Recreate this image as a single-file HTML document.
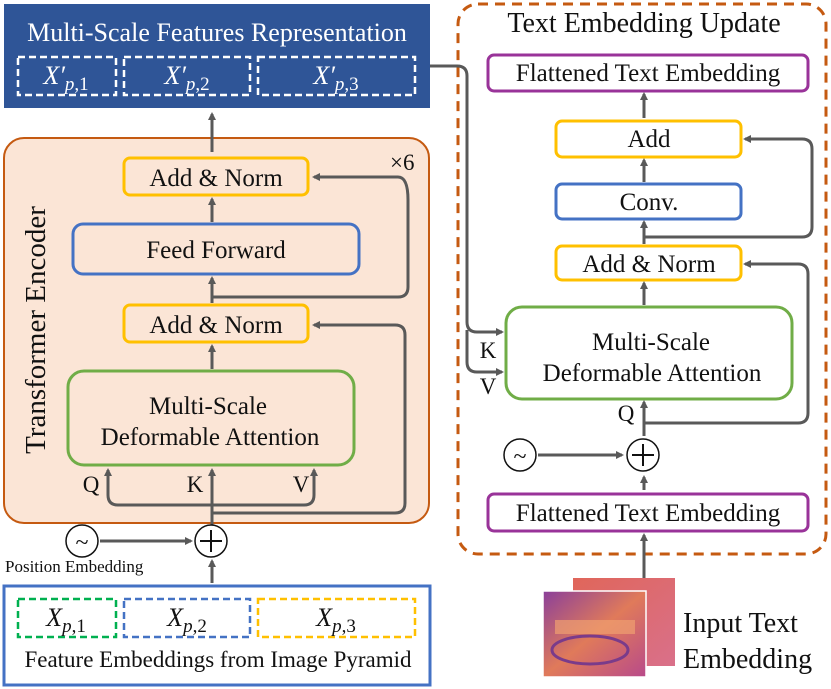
<!DOCTYPE html>
<html><head><style>
html,body{margin:0;padding:0;background:#fff}
svg{display:block}
text{font-family:"Liberation Serif",serif;fill:#111}
</style></head><body>
<svg width="831" height="689" viewBox="0 0 831 689" xmlns="http://www.w3.org/2000/svg">
<defs>
<marker id="ah" markerWidth="8" markerHeight="8" refX="6" refY="4" orient="auto" markerUnits="userSpaceOnUse"><path d="M0,0 L8,4 L0,8 Z" fill="#595959"/></marker>
</defs>
<!-- top blue box -->
<rect x="4" y="4" width="426" height="104" fill="#2f5597"/>
<text x="217" y="41" font-size="26" text-anchor="middle" style="fill:#fff">Multi-Scale Features Representation</text>
<g fill="none" stroke="#fff" stroke-width="2.5" stroke-dasharray="7,4">
<rect x="18" y="57" width="98" height="38"/><rect x="124" y="57" width="126" height="38"/><rect x="258" y="57" width="157" height="38"/>
</g>
<g font-size="26" text-anchor="middle">
<text x="66" y="84" style="fill:#fff"><tspan font-style="italic">X′</tspan><tspan font-size="19" dy="6" font-style="italic">p</tspan><tspan font-size="19">,1</tspan></text>
<text x="187" y="84" style="fill:#fff"><tspan font-style="italic">X′</tspan><tspan font-size="19" dy="6" font-style="italic">p</tspan><tspan font-size="19">,2</tspan></text>
<text x="336" y="84" style="fill:#fff"><tspan font-style="italic">X′</tspan><tspan font-size="19" dy="6" font-style="italic">p</tspan><tspan font-size="19">,3</tspan></text>
</g>
<!-- transformer encoder -->
<rect x="4" y="138" width="425" height="385" rx="20" fill="#fbe5d6" stroke="#c55a11" stroke-width="2"/>
<text transform="translate(45,330) rotate(-90)" font-size="29" text-anchor="middle">Transformer Encoder</text>
<text x="390" y="170" font-size="23">×6</text>
<g stroke-width="3">
<rect x="124" y="158" width="184" height="37" rx="6" fill="#fbe5d6" stroke="#ffc000"/>
<rect x="73" y="224" width="286" height="50" rx="10" fill="#fbe5d6" stroke="#4472c4"/>
<rect x="124" y="305" width="184" height="37" rx="6" fill="#fbe5d6" stroke="#ffc000"/>
<rect x="68" y="371" width="286" height="94" rx="16" fill="#fbe5d6" stroke="#70ad47"/>
</g>
<g font-size="25" text-anchor="middle">
<text x="216" y="186">Add &amp; Norm</text>
<text x="216" y="258">Feed Forward</text>
<text x="216" y="333">Add &amp; Norm</text>
<text x="208" y="414">Multi-Scale</text>
<text x="210" y="445">Deformable Attention</text>
</g>
<g font-size="23" text-anchor="middle">
<text x="91" y="492">Q</text><text x="195" y="492">K</text><text x="301" y="492">V</text>
</g>
<g stroke="#595959" stroke-width="3" fill="none" marker-end="url(#ah)">
<path d="M212,152 L212,114"/>
<path d="M212,222 L212,199"/>
<path d="M212,303 L212,278"/>
<path d="M212,369 L212,346"/>
<path d="M212,297 L398,297 Q408,297 408,287 L408,200 Q408,177 398,177 L314,177"/>
<path d="M212,513 L395,513 Q405,513 405,503 L405,335 Q405,325 395,325 L314,325"/>
<path d="M212,540 L212,470"/>
<path d="M212,505 L118,505 Q108,505 108,495 L108,470"/>
<path d="M212,505 L304,505 Q314,505 314,495 L314,470"/>
<path d="M100,541 L191,541"/>
<path d="M212,583 L212,561"/>
</g>
<g fill="#fff" stroke="#111" stroke-width="1.5">
<circle cx="82" cy="541" r="16"/><circle cx="211" cy="541" r="16"/>
</g>
<text x="82" y="550" font-size="24" text-anchor="middle">~</text>
<path d="M200,541 L222,541 M211,530 L211,552" stroke="#111" stroke-width="2"/>
<text x="5" y="572" font-size="17">Position Embedding</text>
<!-- bottom box -->
<rect x="4" y="586" width="426" height="99" fill="#fff" stroke="#4472c4" stroke-width="3"/>
<g fill="none" stroke-width="2.5" stroke-dasharray="7,4">
<rect x="18" y="599" width="98" height="38" stroke="#00b050"/><rect x="124" y="599" width="126" height="38" stroke="#4472c4"/><rect x="258" y="599" width="157" height="38" stroke="#ffc000"/>
</g>
<g font-size="26" text-anchor="middle">
<text x="66" y="626"><tspan font-style="italic">X</tspan><tspan font-size="19" dy="6" font-style="italic">p</tspan><tspan font-size="19">,1</tspan></text>
<text x="187" y="626"><tspan font-style="italic">X</tspan><tspan font-size="19" dy="6" font-style="italic">p</tspan><tspan font-size="19">,2</tspan></text>
<text x="336" y="626"><tspan font-style="italic">X</tspan><tspan font-size="19" dy="6" font-style="italic">p</tspan><tspan font-size="19">,3</tspan></text>
</g>
<text x="218" y="667" font-size="23" text-anchor="middle">Feature Embeddings from Image Pyramid</text>
<!-- right panel -->
<rect x="458" y="4" width="368" height="550" rx="20" fill="none" stroke="#c55a11" stroke-width="3" stroke-dasharray="10,7"/>
<text x="644" y="32" font-size="28" text-anchor="middle">Text Embedding Update</text>
<g fill="#fff" stroke-width="3">
<rect x="488" y="55" width="320" height="36" rx="6" stroke="#993399"/>
<rect x="556" y="121" width="185" height="36" rx="6" stroke="#ffc000"/>
<rect x="556" y="184" width="185" height="35" rx="6" stroke="#4472c4"/>
<rect x="556" y="246" width="185" height="34" rx="6" stroke="#ffc000"/>
<rect x="506" y="307" width="286" height="92" rx="16" stroke="#70ad47"/>
<rect x="488" y="494" width="320" height="37" rx="6" stroke="#993399"/>
</g>
<g font-size="25" text-anchor="middle">
<text x="648" y="81">Flattened Text Embedding</text>
<text x="649" y="147">Add</text>
<text x="649" y="210">Conv.</text>
<text x="649" y="272">Add &amp; Norm</text>
<text x="651" y="350">Multi-Scale</text>
<text x="652" y="381">Deformable Attention</text>
<text x="648" y="521">Flattened Text Embedding</text>
</g>
<g font-size="23" text-anchor="middle">
<text x="626" y="421">Q</text>
<text x="488" y="358">K</text><text x="488" y="394">V</text>
</g>
<g stroke="#595959" stroke-width="3" fill="none" marker-end="url(#ah)">
<path d="M644,118 L644,94"/>
<path d="M644,182 L644,160"/>
<path d="M644,244 L644,222"/>
<path d="M644,305 L644,283"/>
<path d="M644,436 L644,402"/>
<path d="M644,237 L802,237 Q812,237 812,227 L812,149 Q812,139 802,139 L745,139"/>
<path d="M644,423 L798,423 Q808,423 808,413 L808,274 Q808,264 798,264 L745,264"/>
<path d="M538,455 L622,455"/>
<path d="M644,490 L644,477"/>
<path d="M644,578 L644,535"/>
<path d="M430,66 L457,66 Q467,66 467,76 L467,322 Q467,332 477,332 L502,332"/>
<path d="M467,330 L467,362 Q467,372 477,372 L502,372"/>
</g>
<g fill="#fff" stroke="#111" stroke-width="1.5">
<circle cx="520" cy="455" r="16"/><circle cx="643" cy="455" r="16"/>
</g>
<text x="520" y="464" font-size="24" text-anchor="middle">~</text>
<path d="M632,455 L654,455 M643,444 L643,466" stroke="#111" stroke-width="2"/>
<!-- images -->
<defs>
<linearGradient id="g1" x1="0" y1="0" x2="1" y2="1"><stop offset="0" stop-color="#e0665a"/><stop offset="1" stop-color="#d9708a"/></linearGradient>
<linearGradient id="g2" x1="0" y1="0" x2="1" y2="1"><stop offset="0" stop-color="#8a3f9a"/><stop offset="0.5" stop-color="#e07a5a"/><stop offset="1" stop-color="#b84a8a"/></linearGradient>
</defs>
<rect x="573" y="578" width="102" height="88" fill="url(#g1)"/>
<rect x="543" y="591" width="103" height="86" fill="url(#g2)" stroke="#fff" stroke-width="1.5"/>
<ellipse cx="590" cy="650" rx="38" ry="14" fill="none" stroke="#7a3b8a" stroke-width="3"/>
<rect x="555" y="620" width="80" height="14" fill="#f0a070" opacity="0.7"/>
<text x="683" y="632" font-size="28">Input Text</text>
<text x="683" y="668" font-size="28">Embedding</text>
</svg>
</body></html>
